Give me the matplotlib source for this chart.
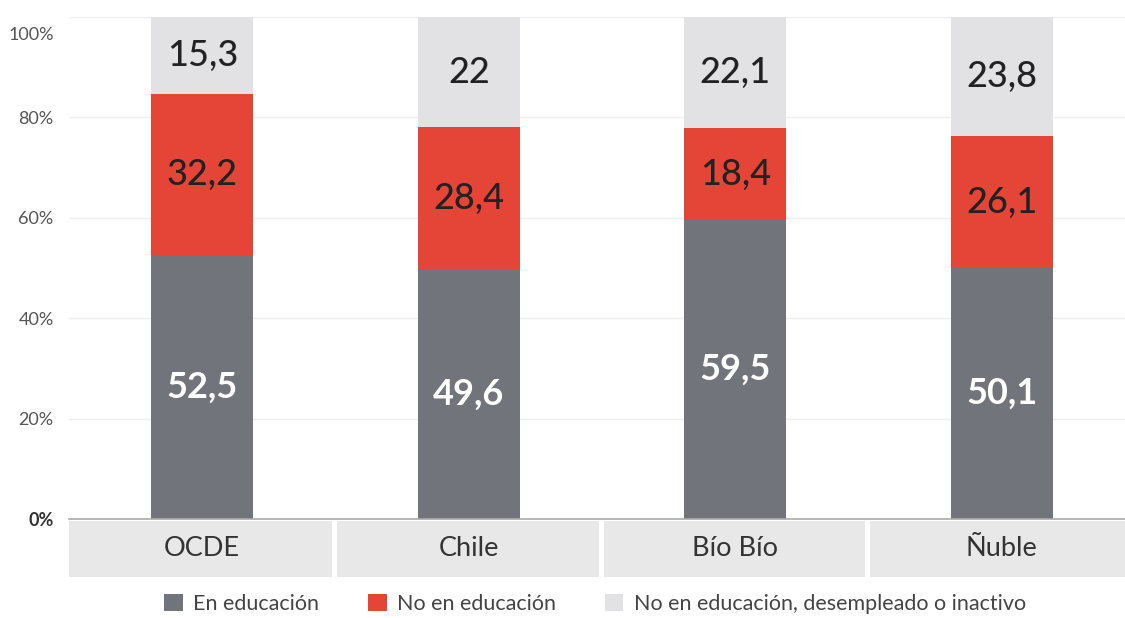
import matplotlib
matplotlib.use("Agg")
import matplotlib.pyplot as plt
import matplotlib.transforms as mtransforms
from matplotlib.patches import Rectangle, Patch
import numpy as np

plt.rcParams['font.family'] = ['Lato', 'DejaVu Sans']

categories = ["OCDE", "Chile", "Bío Bío", "Ñuble"]
en_educacion = [52.5, 49.6, 59.5, 50.1]
no_en_educacion = [32.2, 28.4, 18.4, 26.1]
desempleado_inactivo = [15.3, 22.0, 22.1, 23.8]
series_names = ["En educación", "No en educación", "No en educación, desempleado o inactivo"]
value_labels = [
    ["52,5", "49,6", "59,5", "50,1"],
    ["32,2", "28,4", "18,4", "26,1"],
    ["15,3", "22", "22,1", "23,8"],
]
yticks = [0, 20, 40, 60, 80, 100]
ytick_labels = ["0%", "20%", "40%", "60%", "80%", "100%"]

colors = ["#72747b", "#e54536", "#e2e2e4"]
text_colors = ["white", "#222222", "#222222"]

W, H = 1125, 618
fig = plt.figure(figsize=(W / 100, H / 100), dpi=100)
left_px, right_px, top_px, bottom_px = 69, 1135, 17, 519
ax = fig.add_axes([left_px / W, 1 - bottom_px / H, (right_px - left_px) / W, (bottom_px - top_px) / H])

x = np.arange(len(categories))
width = 0.383
series = [en_educacion, no_en_educacion, desempleado_inactivo]
bottom = np.zeros(len(categories))
for s, vals in enumerate(series):
    vals = np.array(vals)
    ax.bar(x, vals, width, bottom=bottom, color=colors[s], zorder=3, label=series_names[s])
    for i, v in enumerate(vals):
        ax.text(x[i], bottom[i] + v / 2, value_labels[s][i], ha="center", va="center",
                fontsize=26, color=text_colors[s], fontweight="medium" if s > 0 else "bold", zorder=4)
    bottom += vals

ax.set_xlim(-0.5, len(categories) - 0.5)
ax.set_ylim(0, 100)
ax.set_yticks(yticks)
ax.set_yticklabels(ytick_labels)
ax.tick_params(axis="y", length=0, pad=11, labelsize=13, labelcolor="#555555")
ax.tick_params(axis="x", length=0, labelbottom=False)
labels = ax.get_yticklabels()
labels[0].set_fontweight("bold")
labels[0].set_color("#333333")
labels[-1].set_transform(labels[-1].get_transform() + mtransforms.ScaledTranslation(0, -17 / 100, fig.dpi_scale_trans))
ax.grid(axis="y", color="#efefef", linewidth=1, zorder=0)
for sp in ["top", "right", "left"]:
    ax.spines[sp].set_visible(False)
ax.spines["bottom"].set_color("#aaaaaa")
ax.spines["bottom"].set_linewidth(1.2)
ax.spines["bottom"].set_zorder(5)

trans = mtransforms.blended_transform_factory(ax.transData, ax.transAxes)
box_top = -2 / 502
box_bot = -58 / 502
for i, c in enumerate(categories):
    x0 = i - 0.5 if i == 0 else i - 0.494
    x1 = i + 0.487
    ax.add_patch(Rectangle((x0, box_bot), x1 - x0, box_top - box_bot, transform=trans,
                           facecolor="#e8e8e8", edgecolor="none", clip_on=False, zorder=1))
    ax.text(i, -30 / 502, c, transform=trans, ha="center", va="center", fontsize=19.5,
            color="#333333")

handles = [Patch(facecolor=colors[k], edgecolor="none") for k in range(3)]
fig.legend(handles, series_names, loc="center", bbox_to_anchor=(595 / W, 1 - 604 / H), ncol=3,
           frameon=False, fontsize=15.5, handlelength=0.85, handleheight=0.85, handletextpad=0.47,
           columnspacing=2.3, labelcolor="#444444", borderpad=0)

fig.savefig("out.png", dpi=100)
